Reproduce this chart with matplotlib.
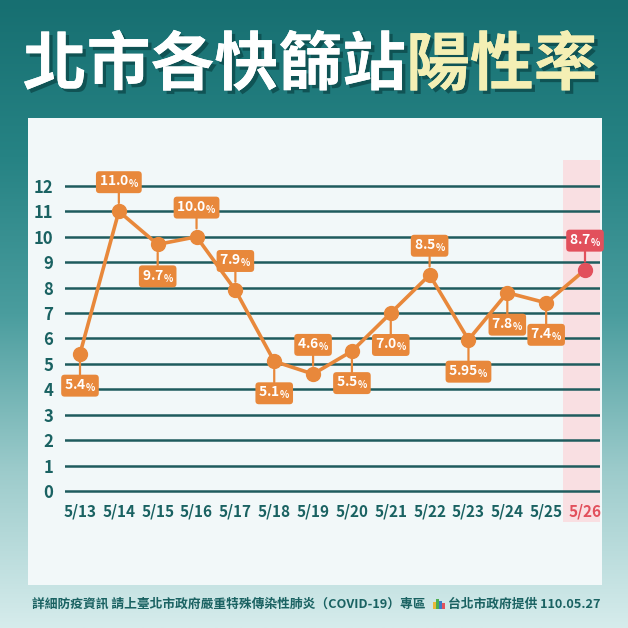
import numpy as np
import matplotlib
matplotlib.use('Agg')
import matplotlib.pyplot as plt
import matplotlib.patheffects as pe
from matplotlib.colors import LinearSegmentedColormap
from matplotlib.patches import Rectangle

plt.rcParams['font.family'] = ['Noto Sans CJK TC', 'DejaVu Sans']

# data
dates = ['5/13', '5/14', '5/15', '5/16', '5/17', '5/18', '5/19',
         '5/20', '5/21', '5/22', '5/23', '5/24', '5/25', '5/26']
rates = [5.4, 11.0, 9.7, 10.0, 7.9, 5.1, 4.6, 5.5, 7.0, 8.5, 5.95, 7.8, 7.4, 8.7]
rate_labels = ['5.4', '11.0', '9.7', '10.0', '7.9', '5.1', '4.6',
               '5.5', '7.0', '8.5', '5.95', '7.8', '7.4', '8.7']
y_ticks = list(range(0, 13))

title_white = '北市各快篩站'
title_yellow = '陽性率'
footer_left = '詳細防疫資訊 請上臺北市政府嚴重特殊傳染性肺炎（COVID-19）專區'
footer_right = '台北市政府提供 110.05.27'

ORANGE = '#e8883b'
RED = '#e2505c'
TEAL = '#1a6262'
GRID = '#1f5c5e'
PINK = '#f9dfe2'

W = H = 628
fig = plt.figure(figsize=(6.28, 6.28), dpi=100)

# background gradient
bg = fig.add_axes([0, 0, 1, 1])
cmap = LinearSegmentedColormap.from_list(
    'bg', ['#176f71', '#268384', '#4a9d9e', '#9ccbcb', '#d6ecec'])
grad = np.linspace(0, 1, 256).reshape(-1, 1)
bg.imshow(grad, aspect='auto', cmap=cmap, extent=[0, 1, 0, 1], origin='upper')
bg.set_xlim(0, 1)
bg.set_ylim(0, 1)
bg.axis('off')

# white panel
bg.add_patch(Rectangle((28 / W, 1 - 585 / H), (602 - 28) / W, (585 - 118) / H,
                       facecolor='#f2f8f9', edgecolor='none'))

# title
shadow = [pe.withSimplePatchShadow(offset=(2.5, -2.5), shadow_rgbFace='#0b4748', alpha=0.75),
          pe.Normal()]
fig.text(406 / W, 1 - 66 / H, title_white, ha='right', va='center', fontsize=46,
         weight='heavy', color='white', path_effects=shadow)
fig.text(406 / W, 1 - 66 / H, title_yellow, ha='left', va='center', fontsize=46,
         weight='heavy', color='#f4efb4', path_effects=shadow)

# chart
ax = fig.add_axes([65 / W, 1 - 522 / H, 535 / W, 362 / H])
ax.set_facecolor('none')
x = np.arange(len(dates))
ax.set_xlim(-0.386, 13.386)
ax.set_ylim(-1.22, 13.02)
ax.axvspan(12.43, 13.386, color=PINK, zorder=0, lw=0)
for t in y_ticks:
    ax.axhline(t, color=GRID, lw=1.8, zorder=1)

ax.plot(x, rates, color=ORANGE, lw=2.6, zorder=3)
ax.plot(x[:-1], rates[:-1], 'o', color=ORANGE, ms=10, zorder=4)
ax.plot(x[-1:], rates[-1:], 'o', color=RED, ms=10, zorder=4)

above = {1, 3, 4, 6, 9, 13}
for i, (v, lab) in enumerate(zip(rates, rate_labels)):
    c = RED if i == len(rates) - 1 else ORANGE
    dy = 21 if i in above else -23
    ax.annotate(lab + r'$\mathregular{_{\%}}$', xy=(i, v), xytext=(0, dy),
                textcoords='offset points', ha='center', va='center',
                fontsize=10, color='white', weight='bold', zorder=5,
                bbox=dict(boxstyle='round,pad=0.2,rounding_size=0.25', fc=c, ec='none'),
                arrowprops=dict(arrowstyle='-', color=c, lw=1.6, shrinkA=0, shrinkB=6))

ax.set_yticks(y_ticks)
ax.set_yticklabels([str(t) for t in y_ticks])
ax.set_xticks(x)
ax.set_xticklabels(dates)
ax.tick_params(axis='y', length=0, pad=8.5, labelsize=12, labelcolor=TEAL)
ax.tick_params(axis='x', length=0, pad=-13.5, labelsize=11, labelcolor=TEAL)
ax.get_xticklabels()[-1].set_color(RED)
for lbl in ax.get_xticklabels() + ax.get_yticklabels():
    lbl.set_fontweight('bold')
for s in ax.spines.values():
    s.set_visible(False)

# footer
fig.text(32 / W, 1 - 604 / H, footer_left, ha='left', va='center', fontsize=9.2,
         weight='bold', color=TEAL)
fig.text(600 / W, 1 - 604 / H, footer_right, ha='right', va='center', fontsize=9.2,
         weight='bold', color=TEAL)
# small city logo next to the credit
for dx, hh, col in [(0, 7, '#e9b93a'), (3, 10, '#4caf50'), (6, 8, '#3a7bc8'), (9, 6, '#e2505c')]:
    bg.add_patch(Rectangle(((433 + dx) / W, 1 - 609 / H), 2.5 / W, hh / H,
                           facecolor=col, edgecolor='none'))

fig.savefig('out.png', dpi=100)
